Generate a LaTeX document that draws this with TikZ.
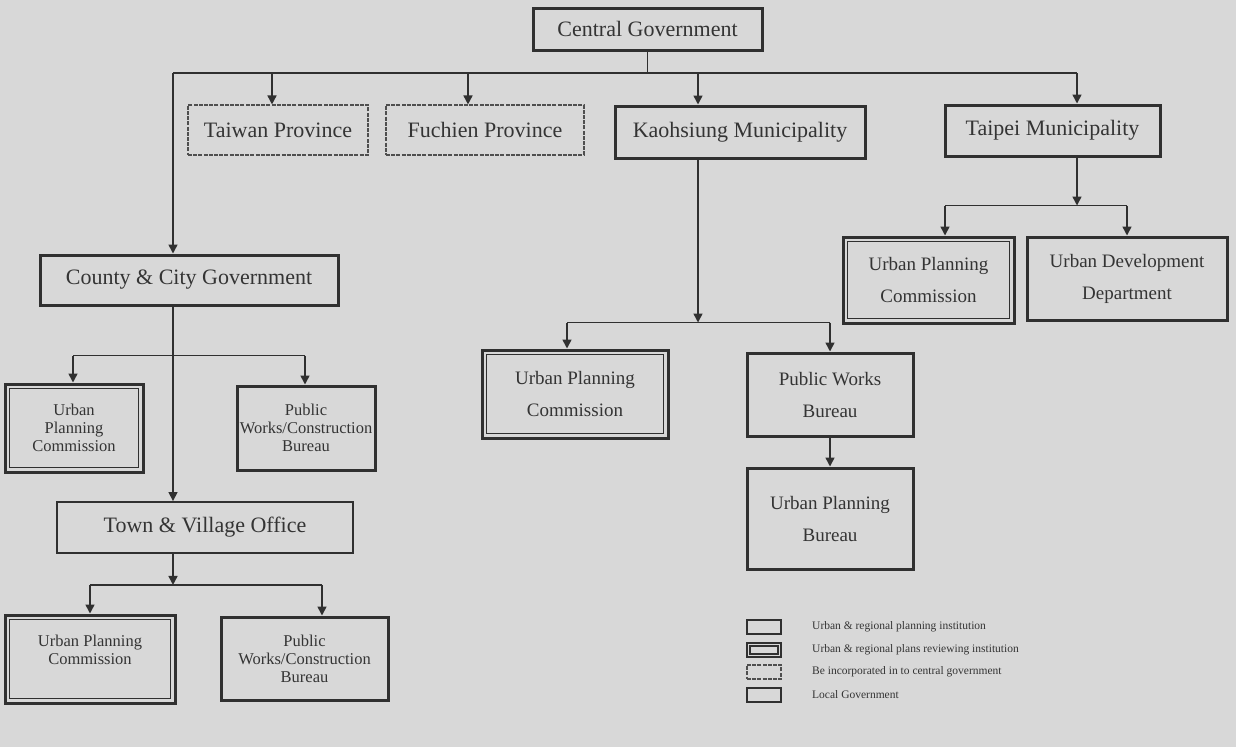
\documentclass[tikz,border=0pt]{standalone}
\usepackage{fontspec}
\setmainfont{Liberation Serif}
\usetikzlibrary{arrows.meta}

\definecolor{paper}{RGB}{216,216,216}
\definecolor{ink}{RGB}{48,48,48}
\definecolor{txt}{RGB}{52,52,52}

\newcommand\lblbig{\fontsize{22}{26}\selectfont}
\newcommand\lblmid{\fontsize{19}{32}\selectfont}
\newcommand\lblsmall{\fontsize{16.5}{18}\selectfont}
\newcommand\lbllegend{\fontsize{11.5}{13}\selectfont}

\tikzset{
  orgbox/.style={rectangle, inner sep=0pt, text=txt, align=center},
  planbox/.style={orgbox, draw=ink, line width=3pt},
  reviewbox/.style={orgbox, draw=ink, line width=3pt,
    path picture={\draw[ink, line width=1.6pt]
      ([shift={(#1,-#1)}]path picture bounding box.north west) rectangle
      ([shift={(-#1,#1)}]path picture bounding box.south east);}},
  reviewbox/.default=4.6pt,
  incbox/.style={orgbox, draw=ink!85, line width=1.1pt, dash pattern=on 4pt off 1.2pt},
  localbox/.style={orgbox, draw=ink, line width=1.9pt},
  conn/.style={draw=ink, line width=1.6pt},
  arr/.style={conn, -{Triangle[length=9pt,width=9pt]}},
  legtext/.style={anchor=west, inner sep=0pt, text=txt, font=\lbllegend}
}

\begin{document}
\begin{tikzpicture}[x=1pt,y=-1pt]
% page
\fill[paper] (0,0) rectangle (1236,747);
\useasboundingbox (0,0) rectangle (1236,747);

% top level
\node[planbox, minimum width=229pt, minimum height=42pt, font=\lblbig] (cg) at (647.5,29) {Central Government};

% second level
\node[incbox, minimum width=180pt, minimum height=50pt, font=\lblbig] (tw) at (278,130) {Taiwan Province};
\node[incbox, minimum width=198pt, minimum height=50pt, font=\lblbig] (fu) at (485,130) {Fuchien Province};
\node[planbox, minimum width=250pt, minimum height=52pt, font=\lblbig] (ka) at (740,132) {Kaohsiung Municipality};
\node[planbox, minimum width=215pt, minimum height=51pt, font=\lblbig] (tp) at (1052.5,130.5) {Taipei Municipality};

% Taipei branch
\node[reviewbox, minimum width=171pt, minimum height=86pt, font=\lblmid] (tupc) at (928.5,280) {Urban Planning\\Commission};
\node[planbox, minimum width=200pt, minimum height=83pt, font=\lblmid] (tudd) at (1127,278.5) {Urban Development\\Department};

% Kaohsiung branch
\node[reviewbox, minimum width=186pt, minimum height=88pt, font=\lblmid] (kupc) at (575,394) {Urban Planning\\Commission};
\node[planbox, minimum width=166pt, minimum height=83pt, font=\lblmid] (kpwb) at (830,394.5) {Public Works\\Bureau};
\node[planbox, minimum width=166pt, minimum height=101pt, font=\lblmid] (kupb) at (830,518.5) {Urban Planning\\Bureau};

% county / city branch
\node[planbox, minimum width=298pt, minimum height=50pt, font=\lblbig] (ccg) at (189,280) {County \& City Government};
\node[reviewbox, minimum width=138pt, minimum height=88pt, font=\lblsmall] (lupc1) at (74,428) {Urban\\Planning\\Commission};
\node[planbox, minimum width=138pt, minimum height=84pt, font=\lblsmall] (lpw1) at (306,428) {Public\\Works/Construction\\Bureau};

% town / village branch
\node[localbox, minimum width=296pt, minimum height=51pt, font=\lblbig] (tvo) at (205,527.5) {Town \& Village Office};
\node[reviewbox, minimum width=170pt, minimum height=88pt, font=\lblsmall] (lupc2) at (90,659) {Urban Planning\\Commission\\\phantom{X}};
\node[planbox, minimum width=167pt, minimum height=83pt, font=\lblsmall] (lpw2) at (304.5,658.5) {Public\\Works/Construction\\Bureau};

% connectors from the central government
\coordinate (hub) at (647.5,73);
\draw[conn] (cg.south) -- (hub);
\draw[conn] ([xshift=-16pt]ccg.north |- hub) -- ([xshift=24.5pt]tp.north |- hub);
\draw[arr] ([xshift=-16pt]ccg.north |- hub) -- ([xshift=-16pt]ccg.north);
\draw[arr] ([xshift=-6pt]tw.north |- hub) -- ([xshift=-6pt]tw.north);
\draw[arr] ([xshift=-17pt]fu.north |- hub) -- ([xshift=-17pt]fu.north);
\draw[arr] ([xshift=-42pt]ka.north |- hub) -- ([xshift=-42pt]ka.north);
\draw[arr] ([xshift=24.5pt]tp.north |- hub) -- ([xshift=24.5pt]tp.north);

% Taipei connectors
\path ([xshift=24.5pt]tp.south) ++(0,48) coordinate (tjoin);
\draw[arr] ([xshift=24.5pt]tp.south) -- (tjoin);
\draw[conn] ([xshift=16.5pt]tupc.north |- tjoin) -- (tudd.north |- tjoin);
\draw[arr] ([xshift=16.5pt]tupc.north |- tjoin) -- ([xshift=16.5pt]tupc.north);
\draw[arr] (tudd.north |- tjoin) -- (tudd.north);

% Kaohsiung connectors
\path ([xshift=-42pt]ka.south) ++(0,163) coordinate (kjoin);
\draw[arr] ([xshift=-42pt]ka.south) -- (kjoin);
\draw[conn] ([xshift=-8pt]kupc.north |- kjoin) -- (kpwb.north |- kjoin);
\draw[arr] ([xshift=-8pt]kupc.north |- kjoin) -- ([xshift=-8pt]kupc.north);
\draw[arr] (kpwb.north |- kjoin) -- (kpwb.north);
\draw[arr] (kpwb.south) -- (kupb.north);

% county / city connectors
\path ([xshift=-16pt]ccg.south) ++(0,49) coordinate (cjoin);
\draw[arr] ([xshift=-16pt]ccg.south) -- ([xshift=-16pt]ccg.south |- tvo.north);
\draw[conn] ([xshift=-1pt]lupc1.north |- cjoin) -- ([xshift=-1pt]lpw1.north |- cjoin);
\draw[arr] ([xshift=-1pt]lupc1.north |- cjoin) -- ([xshift=-1pt]lupc1.north);
\draw[arr] ([xshift=-1pt]lpw1.north |- cjoin) -- ([xshift=-1pt]lpw1.north);

% town / village connectors
\path ([xshift=-32pt]tvo.south) ++(0,31) coordinate (vjoin);
\draw[arr] ([xshift=-32pt]tvo.south) -- (vjoin);
\draw[conn] (lupc2.north |- vjoin) -- ([xshift=17.5pt]lpw2.north |- vjoin);
\draw[arr] (lupc2.north |- vjoin) -- (lupc2.north);
\draw[arr] ([xshift=17.5pt]lpw2.north |- vjoin) -- ([xshift=17.5pt]lpw2.north);

% legend
\node[planbox, line width=2.2pt, minimum width=34pt, minimum height=14pt] (lg1) at (764,627) {};
\node[reviewbox=3pt, line width=2.2pt, minimum width=34pt, minimum height=14pt] (lg2) at (764,650) {};
\node[incbox, minimum width=34pt, minimum height=14pt] (lg3) at (764,672) {};
\node[localbox, line width=1.5pt, minimum width=34pt, minimum height=14pt] (lg4) at (764,695) {};
\node[legtext] (lt1) at (812,627) {Urban \& regional planning institution};
\node[legtext] (lt2) at (812,650) {Urban \& regional plans reviewing institution};
\node[legtext] (lt3) at (812,672) {Be incorporated in to central government};
\node[legtext] (lt4) at (812,695) {Local Government};
\end{tikzpicture}
\end{document}
